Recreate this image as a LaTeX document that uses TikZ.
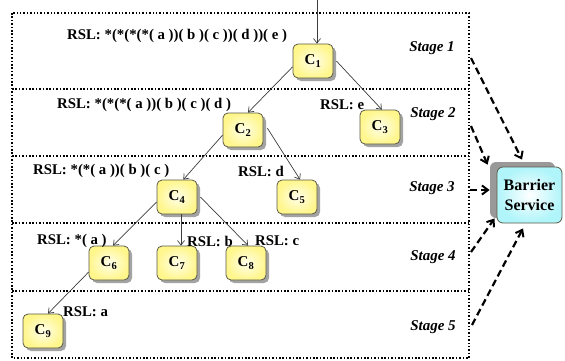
\documentclass[tikz,border=0pt]{standalone}
\usepackage{fontspec}
\setmainfont{Liberation Serif}
\usetikzlibrary{arrows.meta,shadows}
\definecolor{boxyel}{RGB}{255,246,140}
\definecolor{boxedge}{RGB}{90,90,70}
\definecolor{cyanout}{RGB}{175,245,250}
\definecolor{linegray}{RGB}{60,60,60}
\tikzset{
  cbox/.style={draw=boxedge, line width=0.8pt, rounded corners=5pt,
    minimum width=40pt, minimum height=34pt, inner sep=0pt,
    shading=radial, inner color=yellow!8!white, outer color=boxyel,
    drop shadow={shadow xshift=3pt, shadow yshift=-3pt, fill=black!45, opacity=0.8},
    font=\fontsize{15}{15}\selectfont\bfseries},
  bbox/.style={draw=boxedge, line width=0.8pt, rounded corners=6pt,
    minimum width=65pt, minimum height=56pt, inner sep=0pt, align=center,
    shading=radial, inner color=white, outer color=cyanout,
    drop shadow={shadow xshift=-7pt, shadow yshift=5pt, fill=black!40, opacity=1},
    font=\fontsize{16}{20}\selectfont\bfseries},
  rsl/.style={anchor=west, inner sep=0pt, font=\fontsize{14.8}{15}\selectfont\bfseries},
  stagelab/.style={inner sep=0pt, font=\fontsize{15}{15}\selectfont\bfseries\itshape},
  frame/.style={line width=1.6pt, dash pattern=on 1.5pt off 1.9pt},
  conn/.style={draw=linegray, line width=0.7pt, -{Straight Barb[length=4.5pt,width=7pt]}},
  barr/.style={line width=2.2pt, dash pattern=on 7pt off 4pt, -{Straight Barb[length=6pt,width=9pt,line width=2pt]}}
}
\begin{document}
\begin{tikzpicture}[x=1pt,y=-1pt]
\useasboundingbox (0,0) rectangle (565,360);
% frame
\draw[frame] (12,13) rectangle (469,358);
\foreach \yy in {89,156,223,291} \draw[frame] (12,\yy) -- (469,\yy);
% stage labels
\node[stagelab] (st1) at (432,48) {Stage 1};
\node[stagelab] (st2) at (433,114) {Stage 2};
\node[stagelab] (st3) at (432,188) {Stage 3};
\node[stagelab] (st4) at (433,257) {Stage 4};
\node[stagelab] (st5) at (433,327) {Stage 5};
% nodes
\node[cbox] (C1) at (313,61) {C\textsubscript{1}};
\node[cbox] (C2) at (243,130) {C\textsubscript{2}};
\node[cbox] (C3) at (380,127) {C\textsubscript{3}};
\node[cbox] (C4) at (177,197) {C\textsubscript{4}};
\node[cbox] (C5) at (297,197) {C\textsubscript{5}};
\node[cbox] (C6) at (109,263) {C\textsubscript{6}};
\node[cbox] (C7) at (177,263) {C\textsubscript{7}};
\node[cbox] (C8) at (246,263) {C\textsubscript{8}};
\node[cbox] (C9) at (43,331) {C\textsubscript{9}};
\node[bbox] (B) at (529.5,195) {Barrier\\Service};
% RSL labels
\node[rsl] (r1) at (67,36) {RSL: *(*(*(*( a ))( b )( c ))( d ))( e )};
\node[rsl] (r2) at (57,105) {RSL: *(*(*( a ))( b )( c )( d )};
\node[rsl] (r3) at (320,105) {RSL: e};
\node[rsl] (r4) at (33,171) {RSL: *(*( a ))( b )( c )};
\node[rsl] (r5) at (238,171) {RSL: d};
\node[rsl] (r6) at (37,241) {RSL: *( a )};
\node[rsl] (r7) at (187,241) {RSL: b};
\node[rsl] (r8) at (255,241) {RSL: c};
\node[rsl] (r9) at (63,312) {RSL: a};
% connectors
\coordinate (top) at (317,0);
\draw[conn] (top) -- ([xshift=4pt]C1.north);
\draw[conn] (C1.196) -- (C2.74);
\draw[conn] ([xshift=3pt]C1.east) -- (C3.84);
\draw[conn] (C2.194) -- (C4.70);
\draw[conn] ([xshift=4pt]C2.5) -- (C5.80);
\draw[conn] (C4.194) -- (C6.77);
\draw[conn] ([xshift=4pt]C4.south) -- ([xshift=4pt]C7.north);
\draw[conn] ([xshift=3pt]C4.east) -- (C8.83);
\draw[conn] (C6.204) -- (C9.74);
% barrier arrows
\coordinate (s1) at (471,58);
\coordinate (s2) at (471,126);
\coordinate (s3) at (470,190);
\coordinate (s4) at (471,252);
\coordinate (s5) at (472,325);
\draw[barr] (s1) -- ([shift={(-7.5,-7)}]B.north);
\draw[barr] (s2) -- ([shift={(-9,-2)}]B.north west);
\draw[barr] (s3) -- ([shift={(-7,-5)}]B.west);
\draw[barr] (s4) -- ([shift={(-2,-5)}]B.south west);
\draw[barr] (s5) -- ([shift={(-6.5,5)}]B.south);
\end{tikzpicture}
\end{document}
